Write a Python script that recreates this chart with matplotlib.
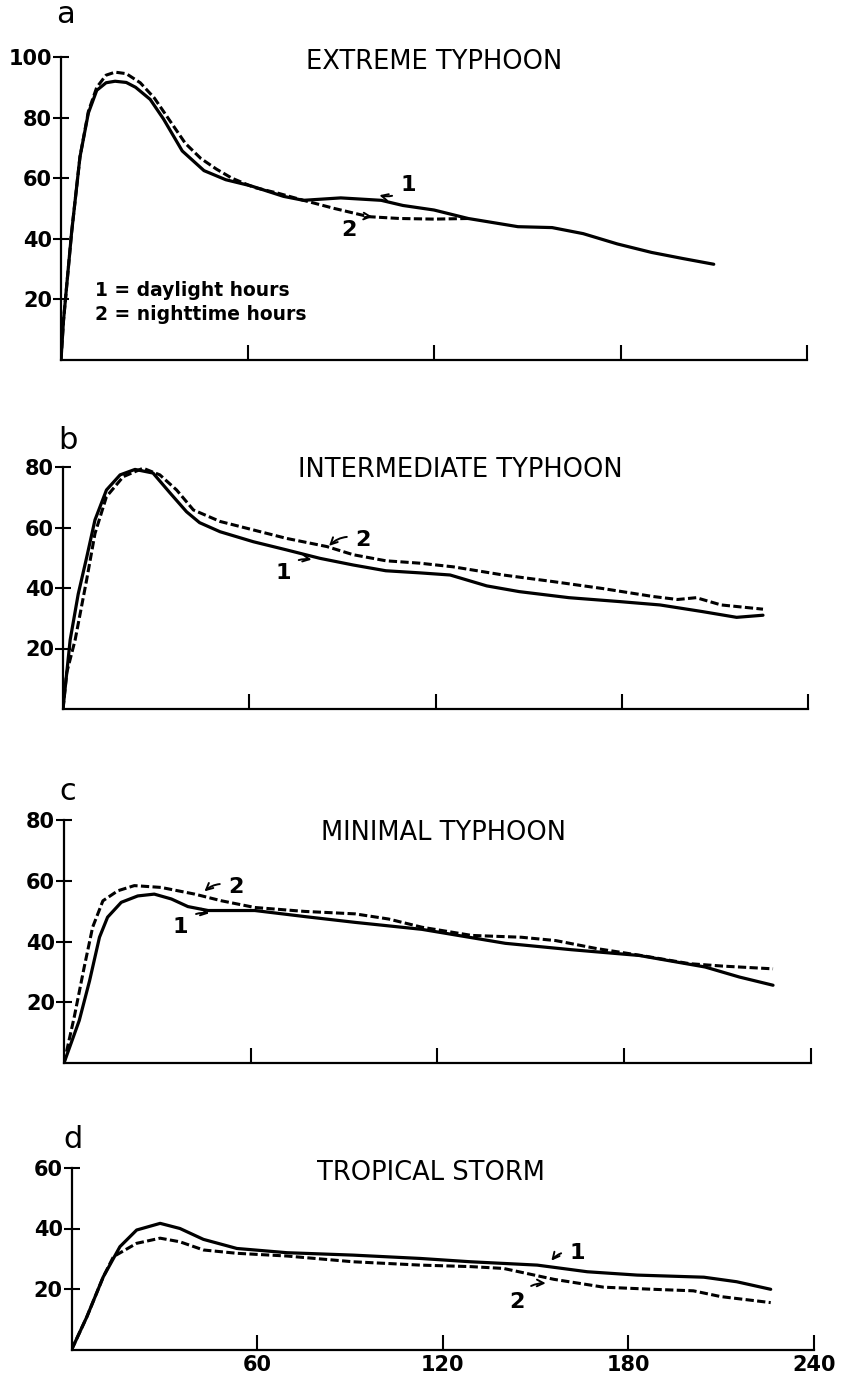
import matplotlib
matplotlib.use("Agg")
import matplotlib.pyplot as plt

# panel a - extreme typhoon
a_t1 = [0, 0.8, 3.4, 6.1, 8.8, 11.5, 14.5, 17.4, 21, 24, 28.7, 33, 39, 46, 53, 61, 71.6, 78, 90, 103, 110, 120, 131, 147, 158, 168, 179, 190, 200, 210]
a_v1 = [0, 13, 42, 67, 81.5, 89, 91.5, 92, 91.6, 90, 86, 79.5, 69, 62.5, 59.5, 57.5, 54, 52.7, 53.5, 52.7, 51, 49.5, 46.7, 44, 43.7, 41.7, 38.3, 35.5, 33.5, 31.6]
a_t2 = [0, 0.8, 3.4, 6.1, 8.8, 11.5, 14.5, 17.4, 21, 25.5, 30, 35, 40, 45, 50, 55, 62, 70, 78, 88, 99, 109, 120, 131]
a_v2 = [0, 13, 42, 67, 82, 90, 94, 95, 94.5, 91.5, 86.5, 79, 71.5, 66.5, 63, 60, 57, 55, 52.7, 50, 47.3, 46.7, 46.5, 46.7]

# panel b - intermediate typhoon
b_t1 = [0, 2.3, 4.9, 7.6, 10.3, 14, 18.4, 23.2, 29, 34.5, 39.8, 44, 50.6, 61.3, 72, 82.8, 93.5, 104, 115, 124.7, 136.5, 147, 163, 179.4, 192.3, 206, 217, 225.5]
b_v1 = [0, 22.8, 38, 50, 62.5, 72.4, 77.4, 79.2, 78, 71.4, 65.2, 61.6, 58.6, 55.3, 52.6, 49.8, 47.6, 45.7, 45, 44.3, 40.7, 38.8, 36.8, 35.5, 34.4, 32.2, 30.3, 31]
b_t2 = [0, 1.2, 3.9, 7.6, 10.3, 14, 19.4, 25.8, 31.2, 36.6, 42, 50.6, 61.3, 72, 85, 93.5, 104, 115, 125.7, 141.8, 158, 174, 190, 198, 204, 212, 225.5]
b_v2 = [0, 12, 22.8, 42.6, 58, 70.2, 76.8, 79.6, 77.4, 72.4, 65.8, 62, 59.2, 56.4, 53.7, 51, 49, 48.2, 47, 44.3, 42.1, 39.8, 37.2, 36.2, 36.8, 34.4, 33]

# panel c - minimal typhoon
c_t1 = [0, 4.9, 8.2, 11.4, 14, 18.4, 23.7, 29, 34.5, 39.8, 46.3, 61.3, 77.4, 93.5, 115, 141.8, 163, 184.8, 206, 217, 227.8]
c_v1 = [0, 14, 27, 41.4, 48, 52.9, 55, 55.6, 54, 51.5, 50.2, 50.2, 48.2, 46.3, 44, 39.4, 37.3, 35.4, 31.6, 28.3, 25.6]
c_t2 = [0, 3.3, 6.5, 9.2, 12.5, 17.3, 22.6, 31.2, 42, 50.6, 61.3, 77.4, 93.5, 104.3, 115, 131, 147, 158, 171, 186, 201, 211.7, 227.8]
c_v2 = [0, 15.2, 31.6, 44.7, 53.4, 56.7, 58.4, 57.8, 55.6, 53.4, 51.2, 49.9, 49.1, 47.4, 44.7, 42, 41.4, 40.3, 37.7, 35.3, 32.7, 31.9, 31]

# panel d - tropical storm
d_t1 = [0, 4.9, 10.2, 15.6, 21, 28.6, 35, 42.6, 53.4, 69.6, 91, 112.7, 129, 150.5, 166.7, 182.8, 204.4, 215, 226]
d_v1 = [0, 10.8, 24, 34, 39.5, 41.7, 40, 36.4, 33.4, 32, 31.2, 30.1, 29, 27.9, 25.7, 24.6, 23.9, 22.4, 19.9]
d_t2 = [0, 4.9, 10.2, 13.5, 21, 28.6, 35, 42.6, 53.4, 69.6, 91, 112.7, 129, 139.6, 155.9, 172, 188, 201, 209.8, 226]
d_v2 = [0, 10.8, 24, 30.7, 35.1, 36.8, 35.6, 32.9, 31.8, 30.9, 29, 27.9, 27.4, 26.8, 23.2, 20.6, 19.9, 19.4, 17.5, 15.5]

x_ticks = [60, 120, 180, 240]
titles = ["EXTREME TYPHOON", "INTERMEDIATE TYPHOON", "MINIMAL TYPHOON", "TROPICAL STORM"]
letters = ["a", "b", "c", "d"]
y_tops = [100, 80, 80, 60]

W, H = 841, 1379
fig = plt.figure(figsize=(W / 100, H / 100), dpi=100)

# axes boxes in pixels: left, right, bottom(y=0), top(y=top tick)
boxes = [(61, 807, 360, 57), (63, 808, 709, 467), (64, 811, 1063, 820), (71.7, 814, 1349.5, 1168)]

panels = [
    (a_t1, a_v1, a_t2, a_v2),
    (b_t1, b_v1, b_t2, b_v2),
    (c_t1, c_v1, c_t2, c_v2),
    (d_t1, d_v1, d_t2, d_v2),
]

# annotation positions (text xy, arrow tip), data coords
notes = [
    [("1", (111.6, 57.8), (102, 54.5), -0.35), ("2", (92.6, 42.9), (100.6, 47.2), -0.35)],
    [("2", (96.6, 55.9), (85.4, 53.6), 0.35), ("1", (70.9, 45.0), (80.5, 49.3), -0.35)],
    [("2", (55.2, 57.8), (44.8, 56.2), 0.35), ("1", (37.4, 44.7), (47.1, 49.2), -0.35)],
    [("1", (163.4, 31.8), (154.8, 29.0), 0.35), ("2", (144.0, 15.8), (153.7, 21.9), -0.35)],
]
title_pos = [(120, 98.3), (128, 79), (122, 75.8), (116, 58.3)]
letter_pos = [(1.3, 113.9), (1.6, 88.9), (1.3, 89.5), (0.4, 69.3)]

for i, (l, r, b, t) in enumerate(boxes):
    ax = fig.add_axes([l / W, 1 - b / H, (r - l) / W, (b - t) / H])
    t1, v1, t2, v2 = panels[i]
    ax.plot(t1, v1, color="black", lw=2.3, solid_capstyle="round", solid_joinstyle="round")
    ax.plot(t2, v2, color="black", lw=2.2, linestyle=(0, (2.7, 1.1)))

    ax.set_xlim(0, 240)
    ax.set_ylim(0, y_tops[i])
    for s in ["top", "right"]:
        ax.spines[s].set_visible(False)
    for s in ["left", "bottom"]:
        ax.spines[s].set_linewidth(1.6)
    ax.set_xticks(x_ticks)
    ax.set_yticks(list(range(20, y_tops[i] + 1, 20)))
    ax.tick_params(axis="x", direction="in", length=11, width=1.5,
                   labelbottom=(i == 3), labelsize=15, pad=4)
    ax.tick_params(axis="y", direction="inout", length=11, width=1.5, labelsize=15, pad=1)
    for lab in ax.get_xticklabels() + ax.get_yticklabels():
        lab.set_fontweight("bold")

    ax.text(*title_pos[i], titles[i], ha="center", va="center", fontsize=18.5)
    ax.text(*letter_pos[i], letters[i], ha="center", va="center", fontsize=22, clip_on=False)

    for txt, xy_text, xy_tip, rad in notes[i]:
        ax.annotate(txt, xy=xy_tip, xytext=xy_text, ha="center", va="center",
                    fontsize=16, fontweight="bold",
                    arrowprops=dict(arrowstyle="->", lw=1.4, color="black",
                                    shrinkA=4, shrinkB=1, mutation_scale=12,
                                    connectionstyle=f"arc3,rad={rad}"))

    if i == 0:
        ax.text(11, 23.1, "1 = daylight hours", ha="left", va="center", fontsize=13.5, fontweight="bold")
        ax.text(11, 14.9, "2 = nighttime hours", ha="left", va="center", fontsize=13.5, fontweight="bold")

fig.savefig("out.png", dpi=100)
